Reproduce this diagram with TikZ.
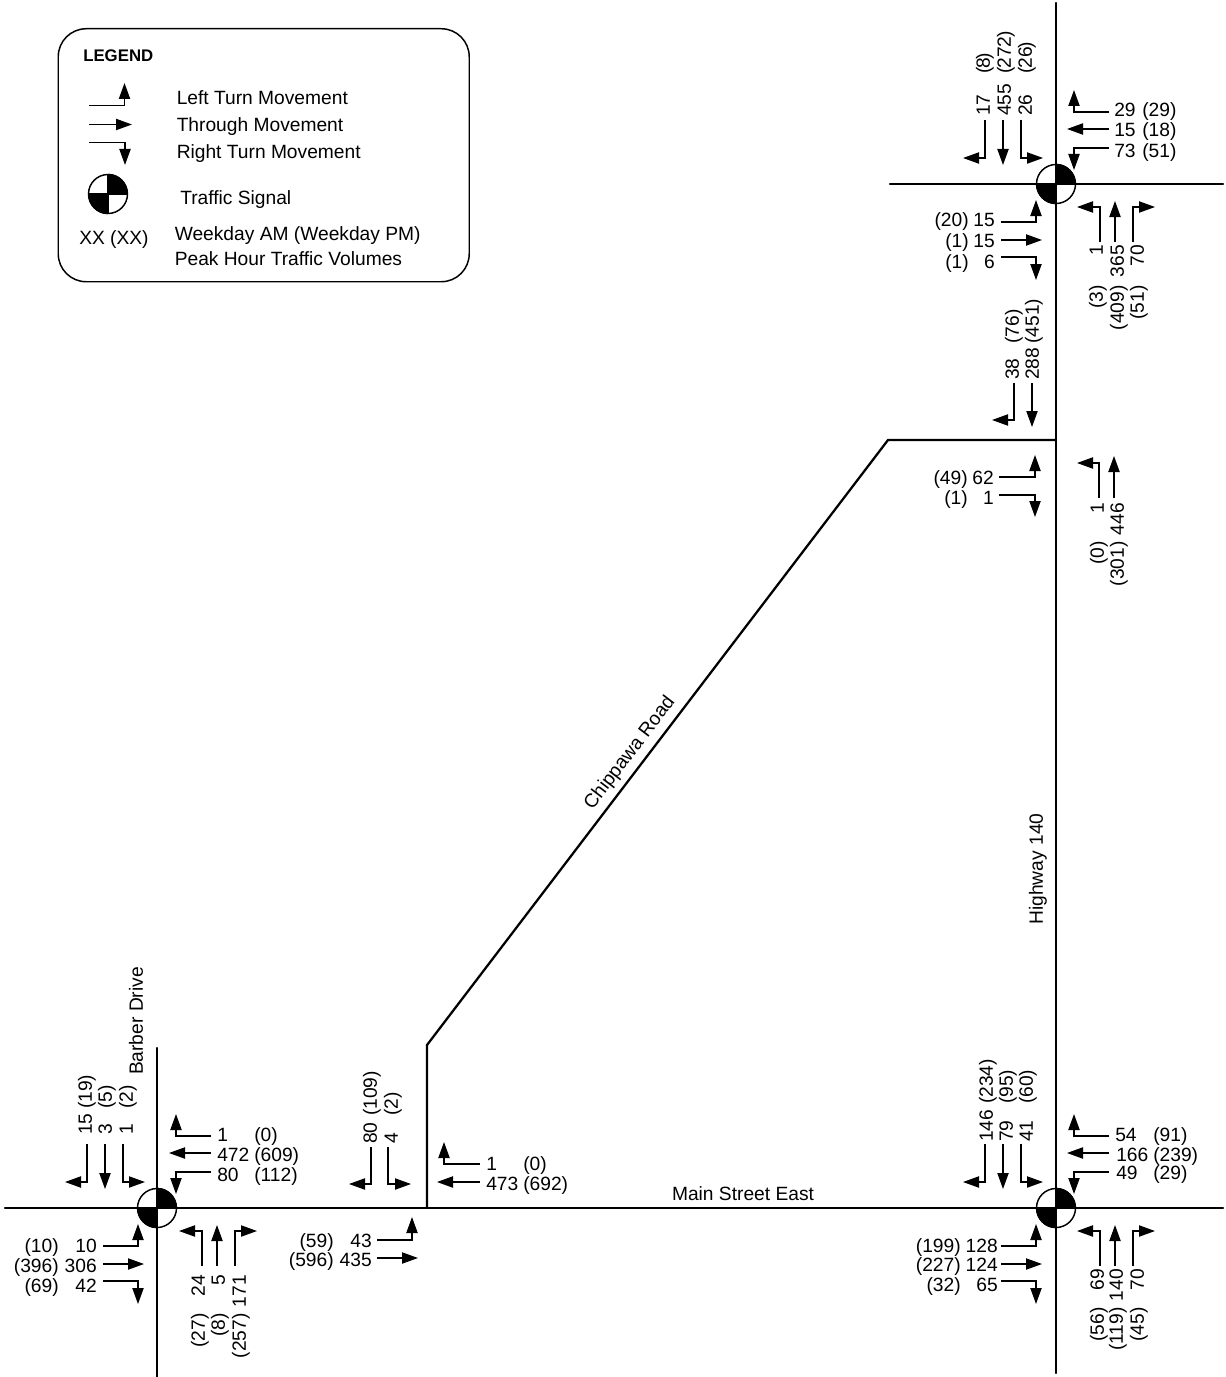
\documentclass[tikz,border=0pt]{standalone}
\usepackage{fontspec}
\setmainfont{Liberation Sans}
\usetikzlibrary{arrows.meta}
\newcounter{lbl}
\tikzset{
  road/.style={line width=1.7pt,line cap=round,line join=miter},
  mv/.style={line width=1.05pt,-{Triangle[length=12pt,width=8.4pt]}},
  lab/.style={inner sep=0pt,text height=10.3pt,text depth=0pt,font=\fontsize{14.4}{16}\selectfont},
  legendbox/.style={draw,line width=1.1pt,rounded corners=21pt},
  signalbody/.style={circle,draw,fill=white,line width=1.1pt,minimum size=29.25pt,inner sep=0pt},
}
% horizontal first / vertical first / straight movement arrows
\newcommand\mvH[5]{\coordinate (#1-s) at (#2,#3);\coordinate (#1-e) at (#4,#5);\draw[mv] (#1-s) -| (#1-e);}
\newcommand\mvV[5]{\coordinate (#1-s) at (#2,#3);\coordinate (#1-e) at (#4,#5);\draw[mv] (#1-s) |- (#1-e);}
\newcommand\mvS[5]{\coordinate (#1-s) at (#2,#3);\coordinate (#1-e) at (#4,#5);\draw[mv] (#1-s) -- (#1-e);}
% labels: west / east anchored, rotated start / end anchored
\newcommand\labW[3]{\stepcounter{lbl}\node[lab,anchor=west] (l\arabic{lbl}) at (#1,#2) {#3};}
\newcommand\labE[3]{\stepcounter{lbl}\node[lab,anchor=east] (l\arabic{lbl}) at (#1,#2) {#3};}
\newcommand\labS[3]{\stepcounter{lbl}\node[lab,anchor=west,rotate=90] (l\arabic{lbl}) at (#1,#2) {#3};}
\newcommand\labN[3]{\stepcounter{lbl}\node[lab,anchor=east,rotate=90] (l\arabic{lbl}) at (#1,#2) {#3};}
\newcommand\tight[1]{(\kern-0.9pt #1\kern-0.9pt)}
% signal symbol
\newcommand\sigsym[3]{%
  \node[signalbody] (#1) at (#2,#3) {};
  \fill (#1.center) -- (#1.north) arc[start angle=90,end angle=0,radius=14.625pt] -- cycle;
  \fill (#1.center) -- (#1.south) arc[start angle=270,end angle=180,radius=14.625pt] -- cycle;
  \draw[line width=0.9pt] (#1.north) -- (#1.south) (#1.west) -- (#1.east);
}
% twelve movements of a four-leg intersection
\newcommand\xmoves[3]{%
  \begin{scope}[shift={(#2,#3)}]
    \mvV{#1-tl}{-71}{-64}{-93}{-26}
    \mvS{#1-tt}{-53}{-64}{-53}{-19}
    \mvV{#1-tr}{-35}{-64}{-13}{-26}
    \mvH{#1-rl}{53}{-72}{18}{-94}
    \mvS{#1-rt}{53}{-55}{11}{-55}
    \mvH{#1-rr}{53}{-36}{18}{-14}
    \mvV{#1-bl}{44}{58}{21}{23}
    \mvS{#1-bt}{59}{58}{59}{17}
    \mvV{#1-br}{77}{58}{99}{23}
    \mvH{#1-ll}{-55}{38}{-20}{16}
    \mvS{#1-lt}{-55}{56}{-14}{56}
    \mvH{#1-lr}{-55}{73}{-20}{96}
  \end{scope}
}
\begin{document}
\begin{tikzpicture}[x=0.75pt,y=-0.75pt]
\useasboundingbox (0,0) rectangle (1225,1377);
% roads
\coordinate (hw-n) at (1056,3);
\coordinate (hw-s) at (1056,1373);
\coordinate (ne-w) at (890,184);
\coordinate (ne-e) at (1223,184);
\coordinate (ms-w) at (5,1208);
\coordinate (ms-e) at (1223,1208);
\coordinate (bd-n) at (157,1048);
\coordinate (bd-s) at (157,1377);
\coordinate (cr-a) at (427,1208);
\coordinate (cr-b) at (427,1045);
\coordinate (cr-c) at (888,440);
\coordinate (cr-d) at (1056,440);
\draw[road] (hw-n) -- (hw-s);
\draw[road] (ne-w) -- (ne-e);
\draw[road] (ms-w) -- (ms-e);
\draw[road] (bd-n) -- (bd-s);
\draw[road] (cr-a) -- (cr-b) -- (cr-c) -- (cr-d);
\sigsym{signe}{1056}{184}
\sigsym{sigse}{1056}{1208}
\sigsym{sigsw}{157}{1208}
% legend
\node[legendbox,minimum width=308.25pt,minimum height=189.75pt,anchor=north west,inner sep=0pt] (legend) at (57.5,28) {};
\node[lab,anchor=west,font=\fontsize{12.6}{15}\selectfont\bfseries] (legtitle) at (83,55) {LEGEND};
\mvH{leg-l}{89}{105.5}{124.5}{83}
\mvS{leg-t}{89}{124.5}{132}{124.5}
\mvH{leg-r}{89}{142.5}{125}{165}
\sigsym{legsig}{108}{194}
\labW{176.5}{98}{Left Turn Movement}
\labW{176.5}{125}{Through Movement}
\labW{176.5}{152}{Right Turn Movement}
\labW{180}{198}{Traffic Signal}
\labW{79}{238}{XX (XX)}
\labW{174.5}{234}{Weekday AM (Weekday PM)}
\labW{174.5}{259}{Peak Hour Traffic Volumes}
% road names
\node[lab,rotate=52.7] (chippawa) at (628.5,752) {Chippawa Road};
\node[lab,rotate=90] (highway) at (1036,869) {Highway 140};
\node[lab] (mainst) at (743,1194) {Main Street East};
\node[lab,rotate=90] (barber) at (136,1021) {Barber Drive};
% intersections' arrows
\xmoves{ne}{1056}{184}
\xmoves{se}{1056}{1208}
\xmoves{sw}{158}{1208}
% Chippawa / Main Street
\mvV{m-a}{371}{1147}{349}{1184}
\mvV{m-b}{388}{1147}{411}{1184}
\mvH{m-c}{480}{1164}{444}{1142}
\mvS{m-d}{480}{1182}{437}{1182}
\mvH{m-e}{377}{1240}{412}{1217}
\mvS{m-f}{377}{1258}{418}{1258}
% Chippawa / Highway
\mvV{n-a}{1014}{383}{992}{420}
\mvS{n-b}{1032}{383}{1032}{427}
\mvH{n-c}{999}{477}{1035}{455}
\mvH{n-d}{999}{495}{1035}{517}
\mvV{n-e}{1099}{498}{1077}{463}
\mvS{n-f}{1114}{498}{1114}{456}
% NE labels
\labS{983}{116}{17}\labS{983}{74}{\tight{8}}
\labS{1004}{116}{455}\labS{1004}{74}{\tight{272}}
\labS{1025}{116}{26}\labS{1025}{74}{\tight{26}}
\labW{1114}{110}{29}\labW{1142}{110}{(29)}
\labW{1114}{130}{15}\labW{1142}{130}{(18)}
\labW{1114}{151}{73}\labW{1142}{151}{(51)}
\labE{995}{220}{15}\labE{969}{220}{(20)}
\labE{995}{241}{15}\labE{969}{241}{(1)}
\labE{995}{262}{6}\labE{969}{262}{(1)}
\labN{1096}{245}{1}\labN{1096}{285}{(3)}
\labN{1117}{245}{365}\labN{1117}{285}{(409)}
\labN{1137}{245}{70}\labN{1137}{285}{(51)}
% N mid labels
\labS{1012}{380}{38}\labS{1012}{344}{(76)}
\labS{1032}{380}{288}\labS{1032}{344}{(451)}
\labE{994}{478}{62}\labE{968}{478}{(49)}
\labE{994}{498}{1}\labE{968}{498}{(1)}
\labN{1097}{503}{1}\labN{1097}{541}{(0)}
\labN{1117}{503}{446}\labN{1117}{541}{(301)}
% SE labels
\labS{986}{1142}{146}\labS{986}{1104}{(234)}
\labS{1006}{1142}{79}\labS{1006}{1104}{(95)}
\labS{1026}{1142}{41}\labS{1026}{1104}{(60)}
\labW{1115}{1135}{54}\labW{1153}{1135}{(91)}
\labW{1116}{1155}{166}\labW{1153}{1155}{(239)}
\labW{1116}{1173}{49}\labW{1153}{1173}{(29)}
\labE{998}{1246}{128}\labE{961}{1246}{(199)}
\labE{998}{1265}{124}\labE{961}{1265}{(227)}
\labE{998}{1285}{65}\labE{961}{1285}{(32)}
\labN{1097}{1269}{69}\labN{1097}{1307}{(56)}
\labN{1116}{1269}{140}\labN{1116}{1307}{(119)}
\labN{1137}{1269}{70}\labN{1137}{1307}{(45)}
% SW labels
\labS{85}{1135}{15}\labS{85}{1109}{(19)}
\labS{105}{1135}{3}\labS{105}{1109}{(5)}
\labS{126}{1135}{1}\labS{126}{1109}{(2)}
\labW{217}{1135}{1}\labW{254}{1135}{(0)}
\labW{217}{1155}{472}\labW{254}{1155}{(609)}
\labW{217}{1175}{80}\labW{254}{1175}{(112)}
\labE{97}{1246}{10}\labE{59}{1246}{(10)}
\labE{97}{1266}{306}\labE{59}{1266}{(396)}
\labE{97}{1286}{42}\labE{59}{1286}{(69)}
\labN{198}{1275}{24}\labN{198}{1313}{(27)}
\labN{218}{1275}{5}\labN{218}{1313}{(8)}
\labN{239}{1275}{171}\labN{239}{1313}{(257)}
% Middle labels
\labS{370}{1144}{80}\labS{370}{1116}{(109)}
\labS{391}{1144}{4}\labS{391}{1116}{(2)}
\labW{486}{1164}{1}\labW{523}{1164}{(0)}
\labW{486}{1184}{473}\labW{523}{1184}{(692)}
\labE{372}{1241}{43}\labE{334}{1241}{(59)}
\labE{372}{1260}{435}\labE{334}{1260}{(596)}
\end{tikzpicture}
\end{document}
